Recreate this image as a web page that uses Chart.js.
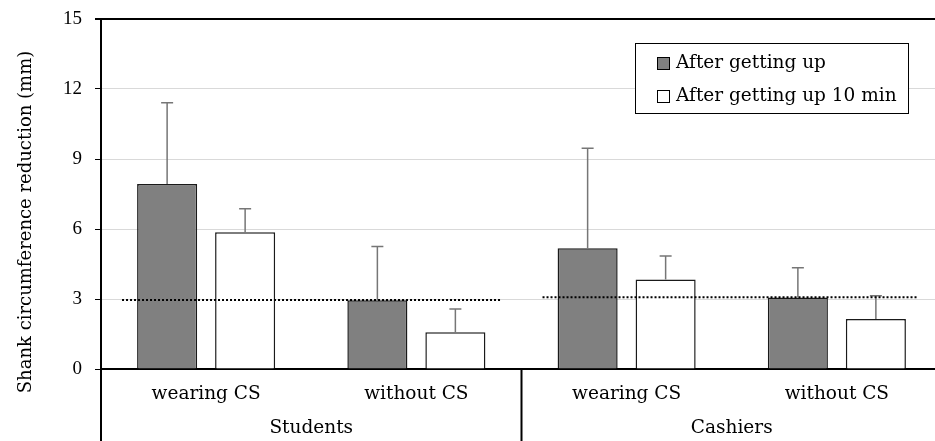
<!DOCTYPE html>
<html>
<head>
<meta charset="utf-8">
<script src="https://cdn.jsdelivr.net/npm/chart.js@4.4.0/dist/chart.umd.min.js"></script>
<style>
  html, body { margin: 0; padding: 0; background: #fff; overflow: hidden; }
  #wrap { width: 942px; height: 441px; }
</style>
</head>
<body>
<div id="wrap"><canvas id="chart" width="942" height="441"></canvas></div>
<script>
// ── Data ──
const categories = ['wearing CS', 'without CS', 'wearing CS', 'without CS'];
const groups = ['Students', 'Cashiers'];
const seriesNames = ['After getting up', 'After getting up 10 min'];
const afterUp = [7.93, 2.95, 5.17, 3.06];
const afterUpErr = [3.48, 2.30, 4.29, 1.28];
const after10 = [5.86, 1.57, 3.84, 2.14];
const after10Err = [1.01, 1.00, 1.00, 1.00];
// dotted reference lines, x in category index units
const refStudentsX = [-0.40, 1.40];
const refStudentsY = 2.96;
const refCashiersX = [1.60, 3.385];
const refCashiersY = 3.07;
const yTicks = [0, 3, 6, 9, 12, 15];
const yTitle = 'Shank circumference reduction (mm)';

const FONT = '"DejaVu Serif", serif';

// ── Plugins ──
const refLines = {
  id: 'refLines',
  afterDatasetsDraw(chart) {
    const { ctx, scales: { x, y } } = chart;
    ctx.save();
    ctx.strokeStyle = '#000';
    ctx.lineWidth = 2;
    ctx.setLineDash([2, 2]);
    [[refStudentsX, refStudentsY], [refCashiersX, refCashiersY]].forEach(([xs, v]) => {
      const py = y.getPixelForValue(v);
      ctx.beginPath();
      ctx.moveTo(x.getPixelForValue(xs[0]), py);
      ctx.lineTo(x.getPixelForValue(xs[1]), py);
      ctx.stroke();
    });
    ctx.restore();
  }
};

const errorBars = {
  id: 'errorBars',
  afterDatasetsDraw(chart) {
    const { ctx, scales: { y } } = chart;
    const errs = [afterUpErr, after10Err];
    ctx.save();
    ctx.strokeStyle = '#767676';
    ctx.lineWidth = 1.5;
    [0, 1].forEach(di => {
      const meta = chart.getDatasetMeta(di);
      const vals = chart.data.datasets[di].data;
      meta.data.forEach((bar, i) => {
        const top = y.getPixelForValue(vals[i] + errs[di][i]);
        ctx.beginPath();
        ctx.moveTo(bar.x, bar.y);
        ctx.lineTo(bar.x, top);
        ctx.moveTo(bar.x - 6, top);
        ctx.lineTo(bar.x + 6, top);
        ctx.stroke();
      });
    });
    ctx.restore();
  }
};

const frame = {
  id: 'frame',
  afterDraw(chart) {
    const { ctx, chartArea: a, scales: { x } } = chart;
    ctx.save();
    ctx.strokeStyle = '#000';
    ctx.lineWidth = 2;
    // left axis and group divider run down through the label area
    const mid = x.getPixelForValue(1.5);
    ctx.beginPath();
    ctx.moveTo(a.left, a.bottom);
    ctx.lineTo(a.left, chart.height);
    ctx.moveTo(mid, a.bottom);
    ctx.lineTo(mid, chart.height);
    ctx.stroke();
    // group labels
    ctx.fillStyle = '#000';
    ctx.font = '18.5px ' + FONT;
    ctx.textAlign = 'center';
    ctx.textBaseline = 'middle';
    groups.forEach((g, gi) => {
      ctx.fillText(g, x.getPixelForValue(gi * 2 + 0.5), 428);
    });
    // y title
    ctx.translate(26, 222);
    ctx.rotate(-Math.PI / 2);
    ctx.font = '18px ' + FONT;
    ctx.fillText(yTitle, 0, 0);
    ctx.restore();

    // legend
    ctx.save();
    ctx.fillStyle = '#fff';
    ctx.fillRect(635, 43, 273, 70);
    ctx.strokeStyle = '#000';
    ctx.lineWidth = 1;
    ctx.strokeRect(635.5, 43.5, 273, 70);
    ctx.font = '18.5px ' + FONT;
    ctx.textBaseline = 'middle';
    chart.data.datasets.forEach((ds, i) => {
      const cy = 63 + i * 33;
      ctx.fillStyle = ds.backgroundColor;
      ctx.fillRect(657, cy - 6, 13, 13);
      ctx.strokeStyle = '#000';
      ctx.strokeRect(657.5, cy - 5.5, 12, 12);
      ctx.fillStyle = '#000';
      ctx.fillText(ds.label, 676, cy);
    });
    ctx.restore();
  }
};

// ── Chart ──
new Chart(document.getElementById('chart'), {
  type: 'bar',
  data: {
    labels: categories,
    datasets: [
      {
        label: seriesNames[0], data: afterUp,
        backgroundColor: '#808080', borderColor: '#1a1a1a', borderWidth: 1.5,
        barPercentage: 0.77, categoryPercentage: 0.742,
      },
      {
        label: seriesNames[1], data: after10,
        backgroundColor: '#ffffff', borderColor: '#1a1a1a', borderWidth: 1.5,
        barPercentage: 0.77, categoryPercentage: 0.742,
      },
    ]
  },
  options: {
    responsive: false,
    animation: false,
    layout: { padding: { top: 19, left: 0, right: 0, bottom: 0 } },
    plugins: { legend: { display: false }, tooltip: { enabled: false } },
    scales: {
      x: {
        type: 'category',
        grid: { display: false },
        border: { display: true, color: '#000', width: 2 },
        ticks: { color: '#000', font: { family: FONT, size: 18.5 }, padding: 6, maxRotation: 0 },
        afterFit: s => { s.height = 72; s.paddingLeft = 0; s.paddingRight = 0; },
      },
      y: {
        min: 0, max: 15,
        afterBuildTicks: s => { s.ticks = yTicks.map(v => ({ value: v })); },
        grid: {
          color: c => c.tick && c.tick.value === 15 ? '#000' : '#d9d9d9',
          lineWidth: c => c.tick && c.tick.value === 15 ? 2 : 1,
          tickColor: '#000', tickLength: 6,
        },
        border: { display: true, color: '#000', width: 2 },
        ticks: { color: '#000', font: { family: '"Liberation Serif", serif', size: 19 }, padding: 13 },
        afterFit: s => { s.width = 101; s.paddingTop = 0; s.paddingBottom = 0; },
      }
    }
  },
  plugins: [errorBars, refLines, frame]
});
</script>
</body>
</html>
